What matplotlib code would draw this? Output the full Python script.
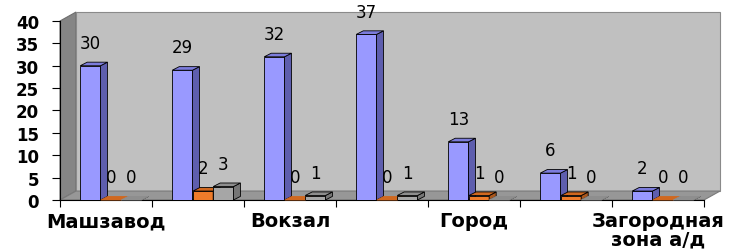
import matplotlib.pyplot as plt
from matplotlib.patches import Polygon

# data
categories = ['Машзавод', '', 'Вокзал', '', 'Город', '', 'Загородная\nзона а/д']
blue_vals = [30, 29, 32, 37, 13, 6, 2]
orange_vals = [0, 2, 0, 0, 1, 1, 0]
gray_vals = [0, 3, 1, 1, 0, 0, 0]
y_ticks = [0, 5, 10, 15, 20, 25, 30, 35, 40]

series = [
    (blue_vals, '#9999FF', '#5E5EAE', '#7C7CDC', -0.17),
    (orange_vals, '#EE7B2A', '#A8561C', '#D0681F', 0.055),
    (gray_vals, '#A6A6A6', '#767676', '#8E8E8E', 0.275),
]
bar_w = 0.22
dx, dy = 0.076, 0.8      # bar depth
wx, wy = 0.174, 2.0      # wall depth

fig = plt.figure(figsize=(7.31, 2.51), dpi=100)
ax = fig.add_axes([60 / 731, 50 / 251, 644 / 731, 179 / 251])
ax.set_xlim(-0.5, 6.5)
ax.set_ylim(0, 40)

n = len(categories)
x0, x1 = -0.5, n - 0.5

# walls and floor
ax.add_patch(Polygon([(x0, 0), (x0, 40), (x0 + wx, 40 + wy), (x0 + wx, wy)],
                     closed=True, fc='#858585', ec='#6e6e6e', lw=0.8, clip_on=False, zorder=0))
ax.add_patch(Polygon([(x0 + wx, wy), (x0 + wx, 40 + wy), (x1 + wx, 40 + wy), (x1 + wx, wy)],
                     closed=True, fc='#C0C0C0', ec='#8a8a8a', lw=0.8, clip_on=False, zorder=0))
ax.add_patch(Polygon([(x0, 0), (x1, 0), (x1 + wx, wy), (x0 + wx, wy)],
                     closed=True, fc='#979797', ec='#7a7a7a', lw=0.8, clip_on=False, zorder=0))

z = 2
for i in range(n):
    for vals, front, side, top, off in series:
        v = vals[i]
        left = i + off - bar_w / 2
        right = left + bar_w
        ax.bar(i + off, v, width=bar_w, color=front, edgecolor='black', linewidth=0.6, zorder=z)
        ax.add_patch(Polygon([(right, 0), (right + dx, dy), (right + dx, v + dy), (right, v)],
                             closed=True, fc=side, ec='black', lw=0.6, zorder=z, clip_on=False))
        ax.add_patch(Polygon([(left, v), (right, v), (right + dx, v + dy), (left + dx, v + dy)],
                             closed=True, fc=top, ec='black' if v > 0 else top, lw=0.6,
                             zorder=z, clip_on=False))
        ax.annotate(str(v), (i + off, v), xytext=(0, 10), textcoords='offset points',
                    ha='center', va='bottom', fontsize=12, family='DejaVu Sans',
                    zorder=z + 1, annotation_clip=False)
        z += 1

for s in ['top', 'right']:
    ax.spines[s].set_visible(False)
for s in ['left', 'bottom']:
    ax.spines[s].set_color('black')
    ax.spines[s].set_linewidth(0.8)
    ax.spines[s].set_zorder(1)

ax.set_yticks(y_ticks)
ax.set_yticklabels([str(t) for t in y_ticks], fontsize=12, fontweight='bold', family='DejaVu Sans')
ax.tick_params(axis='y', length=6, width=0.8, pad=9)

ax.set_xticks([i - 0.5 for i in range(n + 1)])
ax.set_xticklabels([])
ax.tick_params(axis='x', which='major', length=5, width=0.8, direction='out')
ax.set_xticks(range(n), minor=True)
ax.set_xticklabels(categories, minor=True, fontsize=14, fontweight='bold',
                   family='DejaVu Sans', linespacing=0.95)
ax.tick_params(axis='x', which='minor', length=0, pad=8)

ax.set_facecolor('none')
fig.savefig('out.png', dpi=100)
